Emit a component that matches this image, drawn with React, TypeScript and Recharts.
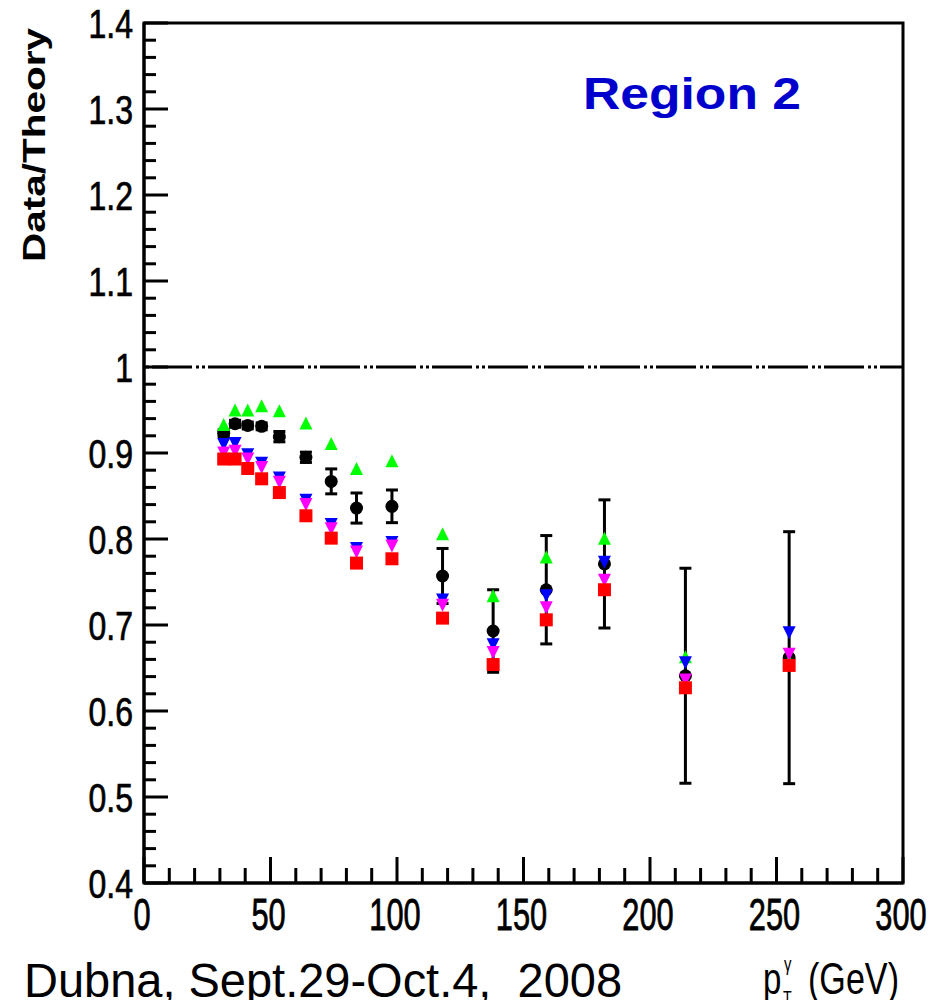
import React from 'react';
import {
  ComposedChart,
  Scatter,
  XAxis,
  YAxis,
  ErrorBar,
  ReferenceLine,
  ReferenceArea,
} from 'recharts';

// photon pT bin centres (GeV)
const ptBins = [31.5, 36, 41, 46.5, 53.5, 64, 74, 84, 98, 118, 138, 159, 182, 214, 255];

// measured data / theory with its uncertainty
const dataRatio = [0.923, 0.934, 0.932, 0.931, 0.919, 0.895, 0.867, 0.836, 0.838, 0.757, 0.693, 0.741, 0.771, 0.641, 0.662];
const dataErr = [0.004, 0.004, 0.004, 0.004, 0.006, 0.006, 0.0145, 0.0175, 0.019, 0.032, 0.048, 0.063, 0.0745, 0.125, 0.1465];

// theory variants
const greenRatio = [0.933, 0.95, 0.95, 0.955, 0.949, 0.935, 0.911, 0.882, 0.891, 0.806, 0.734, 0.779, 0.801, 0.663, 0.658];
const blueRatio = [0.91, 0.911, 0.898, 0.888, 0.871, 0.845, 0.817, 0.789, 0.796, 0.729, 0.677, 0.734, 0.773, 0.656, 0.691];
const magentaRatio = [0.9, 0.902, 0.893, 0.883, 0.866, 0.84, 0.812, 0.785, 0.792, 0.723, 0.668, 0.72, 0.752, 0.636, 0.666];
const redRatio = [0.893, 0.893, 0.882, 0.87, 0.854, 0.827, 0.801, 0.772, 0.777, 0.708, 0.654, 0.706, 0.741, 0.627, 0.653];

// axis ticks
const xMajorTicks = [0, 50, 100, 150, 200, 250, 300];
const xTickLabels = ['0', '50', '100', '150', '200', '250', '300'];
const yMajorTicks = [0.4, 0.5, 0.6, 0.7, 0.8, 0.9, 1.0, 1.1, 1.2, 1.3, 1.4];
const yTickLabels = ['0.4', '0.5', '0.6', '0.7', '0.8', '0.9', '1', '1.1', '1.2', '1.3', '1.4'];

const xTicks: number[] = [];
for (let i = 0; i < xMajorTicks.length - 1; i++) {
  for (let k = 0; k < 5; k++) xTicks.push(xMajorTicks[i] + k * 10);
}
xTicks.push(xMajorTicks[xMajorTicks.length - 1]);

const yTicks: number[] = [];
for (let i = 0; i < yMajorTicks.length - 1; i++) {
  for (let k = 0; k < 5; k++) yTicks.push(Math.round((yMajorTicks[i] + k * 0.02) * 100) / 100);
}
yTicks.push(yMajorTicks[yMajorTicks.length - 1]);

const toPoints = (vals: number[]) => ptBins.map((x, i) => ({ x, y: vals[i] }));
const dataPoints = ptBins.map((x, i) => ({ x, y: dataRatio[i], err: dataErr[i] }));

const FONT = '"Liberation Sans", Arial, Helvetica, sans-serif';
const Y_TICK_MARGIN = 11;
const W = 935;
const H = 1008;
const MARGIN = { top: 23, right: 32, bottom: 75, left: 9 };
const Y_AXIS_W = 135;
const X_AXIS_H = 50;

const YTick = (props: any) => {
  const { x, y, payload } = props;
  const v = payload.value as number;
  const idx = yMajorTicks.findIndex((m) => Math.abs(m - v) < 1e-6);
  const major = idx >= 0;
  const edge = x + Y_TICK_MARGIN;
  return (
    <g>
      <line x1={edge} x2={edge + (major ? 24 : 12)} y1={y} y2={y} stroke="#000" strokeWidth={3} />
      {major && (
        <text
          transform={`translate(${x},${y + 14.5}) scale(0.8,1)`}
          textAnchor="end"
          fontSize={40}
          fontFamily={FONT}
          fill="#000"
          stroke="#000"
          strokeWidth={0.7}
        >
          {yTickLabels[idx]}
        </text>
      )}
    </g>
  );
};

const XTick = (props: any) => {
  const { x, y, payload } = props;
  const v = payload.value as number;
  const idx = xMajorTicks.indexOf(v);
  const major = idx >= 0;
  return (
    <g>
      <line x1={x} x2={x} y1={y} y2={y - (major ? 26 : 15)} stroke="#000" strokeWidth={3} />
      {major && (
        <text
          transform={`translate(${x - 2},${y + 47}) scale(0.7,1)`}
          textAnchor="middle"
          fontSize={44}
          fontFamily={FONT}
          fill="#000"
          stroke="#000"
          strokeWidth={0.8}
        >
          {xTickLabels[idx]}
        </text>
      )}
    </g>
  );
};

const R = 6.5;
const circleShape = (p: any) => <circle cx={p.cx} cy={p.cy} r={R} fill="#000" />;
const triUp = (color: string) => (p: any) => (
  <polygon
    points={`${p.cx},${p.cy - R} ${p.cx + R},${p.cy + R} ${p.cx - R},${p.cy + R}`}
    fill={color}
  />
);
const triDown = (color: string) => (p: any) => (
  <polygon
    points={`${p.cx - R},${p.cy - R} ${p.cx + R},${p.cy - R} ${p.cx},${p.cy + R}`}
    fill={color}
  />
);
const squareShape = (color: string) => (p: any) => (
  <rect x={p.cx - R} y={p.cy - R} width={2 * R} height={2 * R} fill={color} />
);

// Base layer: frame, axes, reference line and the measured points with error bars.
function BaseChart() {
  return (
    <ComposedChart width={W} height={H} margin={MARGIN}>
      <XAxis
        type="number"
        dataKey="x"
        domain={[0, 300]}
        ticks={xTicks}
        interval={0}
        tickSize={0}
        tickMargin={0}
        tickLine={false}
        axisLine={{ stroke: '#000', strokeWidth: 3 }}
        tick={<XTick />}
        height={X_AXIS_H}
        allowDataOverflow
      />
      <YAxis
        type="number"
        dataKey="y"
        domain={[0.4, 1.4]}
        ticks={yTicks}
        interval={0}
        tickSize={0}
        tickMargin={Y_TICK_MARGIN}
        tickLine={false}
        axisLine={{ stroke: '#000', strokeWidth: 3 }}
        tick={<YTick />}
        width={Y_AXIS_W}
        allowDataOverflow
      />
      <ReferenceArea
        x1={0}
        x2={300}
        y1={0.4}
        y2={1.4}
        fill="none"
        fillOpacity={0}
        stroke="#000"
        strokeWidth={3}
        ifOverflow="visible"
      />
      <ReferenceLine
        y={1}
        stroke="#000"
        strokeWidth={3}
        strokeDasharray="40 4 3 3 3 3"
        strokeDashoffset={48}
      />
      <Scatter data={dataPoints} shape={circleShape} isAnimationActive={false}>
        <ErrorBar dataKey="err" direction="y" width={6} stroke="#000" strokeWidth={3} isAnimationActive={false} />
      </Scatter>
    </ComposedChart>
  );
}

// Upper layer: the theory variants, drawn over the error bars on identical scales.
function TheoryChart() {
  return (
    <ComposedChart
      width={W}
      height={H}
      margin={{
        top: MARGIN.top,
        right: MARGIN.right,
        bottom: MARGIN.bottom + X_AXIS_H,
        left: MARGIN.left + Y_AXIS_W,
      }}
    >
      <XAxis type="number" dataKey="x" domain={[0, 300]} hide allowDataOverflow />
      <YAxis type="number" dataKey="y" domain={[0.4, 1.4]} hide allowDataOverflow />
      <Scatter data={toPoints(greenRatio)} shape={triUp('#00FF00')} isAnimationActive={false} />
      <Scatter data={toPoints(blueRatio)} shape={triDown('#0000FF')} isAnimationActive={false} />
      <Scatter data={toPoints(magentaRatio)} shape={triDown('#FF00FF')} isAnimationActive={false} />
      <Scatter data={toPoints(redRatio)} shape={squareShape('#FF0000')} isAnimationActive={false} />
    </ComposedChart>
  );
}

export default function App() {
  return (
    <div style={{ position: 'relative', width: W, height: H, margin: -8, background: '#fff', overflow: 'hidden' }}>
      <div style={{ position: 'absolute', left: 0, top: 0, width: 8, height: H, background: '#CCEBFF' }} />
      <div style={{ position: 'absolute', left: 0, top: 0 }}>
        <BaseChart />
      </div>
      <div style={{ position: 'absolute', left: 0, top: 0 }}>
        <TheoryChart />
      </div>
      <svg
        width={W}
        height={H}
        style={{ position: 'absolute', left: 0, top: 0, pointerEvents: 'none' }}
      >
        <text
          x={583}
          y={109}
          fontSize={44}
          fontWeight="bold"
          fontFamily={FONT}
          fill="#0000CC"
          textLength={218}
          lengthAdjust="spacingAndGlyphs"
        >
          Region 2
        </text>
        <text
          transform="translate(45,145) rotate(-90)"
          textAnchor="middle"
          fontSize={31}
          fontWeight="bold"
          fontFamily={FONT}
          fill="#000"
          textLength={234}
          lengthAdjust="spacingAndGlyphs"
        >
          Data/Theory
        </text>
        <text
          x={24}
          y={997}
          fontSize={48}
          fontFamily={FONT}
          fill="#000"
          textLength={598}
          lengthAdjust="spacingAndGlyphs"
          style={{ whiteSpace: 'pre' }}
        >
          {'Dubna, Sept.29-Oct.4,  2008'}
        </text>
        <g fontFamily={FONT} fill="#000">
          <text transform="translate(763,994) scale(0.75,1)" fontSize={44}>p</text>
          <text transform="translate(784,971) scale(0.75,1)" fontSize={20}>γ</text>
          <text transform="translate(783,1004) scale(0.75,1)" fontSize={19}>T</text>
          <text x={808} y={994} fontSize={44} textLength={91} lengthAdjust="spacingAndGlyphs">
            (GeV)
          </text>
        </g>
      </svg>
    </div>
  );
}
